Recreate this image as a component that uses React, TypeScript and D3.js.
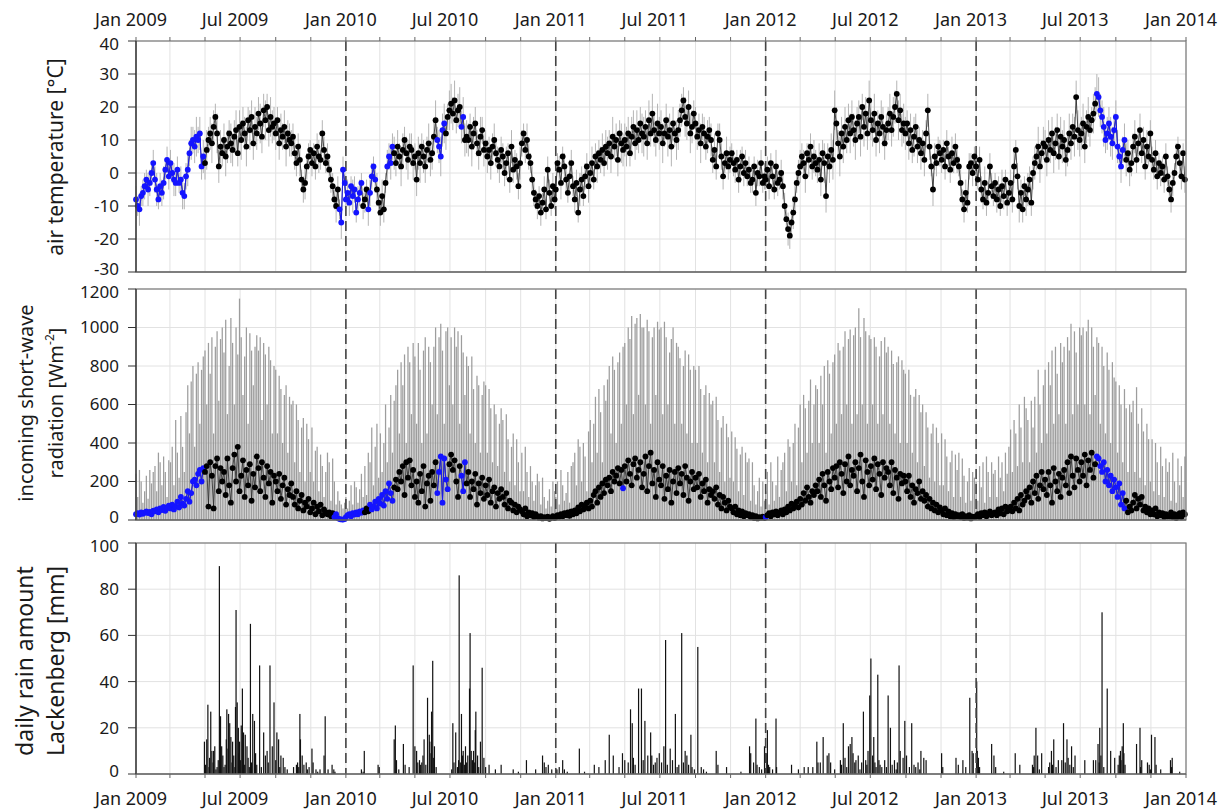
import React from "react";
import * as d3 from "d3";

// Sampling: one value every 3 days, starting 1 January of each year (122 values per year).
// Month blocks: Jan 11, Feb 9, Mar 10, Apr 10, May 11, Jun 10, Jul 10, Aug 10, Sep 10, Oct 11, Nov 10, Dec 10.

// Daily mean air temperature [°C]
const tempMean2009 = [
  -8, -10, -11, -7, -6, -4, -2, -5, -3, 0, 3,
  -2, -5, -8, -4, -6, -3, 1, 4, -1,
  3, 0, -2, -3, 1, -3, -2, -6, -7, -1,
  1, 6, 9, 10, 8, 11, 10, 12, 2, 5,
  3, 7, 10, 12, 9, 14, 17, 12, 2, 8, 6,
  10, 5, 8, 12, 9, 7, 11, 13, 6, 14,
  10, 15, 12, 8, 16, 13, 17, 9, 14, 12,
  18, 15, 11, 19, 16, 20, 13, 17, 14, 15,
  12, 16, 9, 13, 11, 14, 8, 12, 10, 9,
  11, 6, 3, 8, 4, -2, -5, -3, 2, 5, 7,
  3, 6, 2, 8, 5, 4, 12, 7, 3, 5,
  1, -2, -4, -8, -10, -5, -11, -15, 1, -3,
];
const tempMean2010 = [
  -8, -6, -9, -4, -7, -5, -12, -8, -6, -3, -10,
  -8, -5, -11, -6, -1, 2, -2, -5, -9,
  -12, -7, -11, -3, 2, 5, 3, 8, 6, 3,
  8, 5, 2, 7, 10, 6, 4, 8, 7, 3,
  5, -2, 6, 3, 8, 5, 2, 7, 9, 4, 6,
  11, 16, 10, 8, 5, 13, 15, 12, 17, 19,
  21, 18, 22, 16, 19, 20, 14, 17, 10, 11,
  10, 14, 8, 12, 15, 9, 6, 11, 13, 7,
  9, 5, 7, 3, 8, 10, 6, 4, 2, 7,
  5, 0, 3, 6, -2, 8, 1, 4, 2, -4, 3,
  9, 12, 7, 10, 5, 3, -2, -6, -8, -10,
  -7, -12, -9, -5, -11, 1, -6, -10, -4, -8,
];
const tempMean2011 = [
  -5, 3, 1, -3, 5, 2, -2, -6, -1, 3, -4,
  -8, -3, -12, -5, -2, -7, -1, 2, -4,
  0, 3, -2, 5, 2, 6, 4, 7, 3, 8,
  6, 9, 5, 11, 8, 10, 4, 12, 9, 7,
  10, 8, 12, 6, 11, 14, 9, 13, 10, 15, 12,
  11, 14, 9, 16, 12, 18, 13, 10, 15, 12,
  14, 9, 12, 16, 11, 13, 8, 15, 12, 10,
  13, 16, 19, 22, 17, 15, 20, 12, 14, 18,
  15, 11, 13, 9, 14, 12, 8, 11, 13, 10,
  4, 7, 2, 12, 10, 5, -1, 3, 6, 2, 4,
  6, 3, 1, 4, -2, 2, 5, 0, 3, -1,
  1, -3, -2, 2, -6, 0, -1, 3, -3, -1,
];
const tempMean2012 = [
  -2, 1, -4, 3, -1, -5, 2, -3, -2, 0, -4,
  -10, -14, -17, -19, -15, -12, -8, -3, 0,
  2, 5, 3, -1, 6, 4, 8, 2, 5, 3,
  1, 4, -2, 6, 3, -7, 5, 2, 7, 4,
  19, 15, 9, 5, 12, 8, 14, 10, 16, 12, 17,
  13, 10, 15, 17, 11, 20, 14, 18, 12, 22,
  16, 13, 18, 10, 15, 12, 17, 14, 9, 13,
  15, 18, 13, 17, 20, 24, 16, 19, 13, 15,
  12, 15, 9, 13, 7, 11, 14, 8, 10, 6,
  9, 4, 12, 19, 8, 2, -5, 5, 3, 8, 6,
  4, 7, 2, 9, 5, 1, 6, 3, 8, 4,
  2, -3, -8, -11, -6, -9, 2, 3, 0, 5,
];
const tempMean2013 = [
  2, -2, 4, -5, -8, -3, -9, -6, 2, -4, -7,
  -3, -8, -5, -10, -4, -7, -2, -9, -6,
  -3, -8, 2, 7, -1, -10, -6, -11, -4, -8,
  -5, -2, -9, 0, 3, 5, 8, 2, 6, 9,
  8, 4, 10, 7, 12, 6, 9, 13, 5, 11, 8,
  10, 4, 7, 12, 9, 14, 11, 23, 13, 10,
  12, 15, 8, 14, 17, 13, 16, 18, 21, 24,
  23, 19, 17, 14, 10, 12, 15, 11, 9, 13,
  17, 8, 5, 2, 7, 10, 4, 6, 1, 3,
  8, 11, 4, 9, 13, 6, 10, 2, 8, 5, 12,
  4, 1, 6, -1, 3, 0, 2, -2, 5, -1,
  -5, -8, -3, 0, 5, 8, 3, -1, 6, -2,
];

// Half of the daily min–max temperature range [°C]
const tempHalfRange2009 = [
  4, 3, 5, 3, 4, 4, 3, 5, 4, 3, 4,
  4, 5, 3, 4, 4, 5, 3, 4, 4,
  4, 3, 5, 4, 4, 3, 4, 5, 4, 4,
  5, 4, 5, 4, 5, 6, 4, 5, 4, 5,
  5, 6, 4, 5, 6, 5, 4, 6, 5, 5, 4,
  5, 6, 5, 4, 6, 5, 5, 6, 4, 5,
  6, 5, 5, 6, 4, 6, 5, 5, 6, 5,
  5, 6, 5, 5, 6, 4, 5, 6, 5, 5,
  5, 4, 5, 5, 4, 5, 6, 4, 5, 4,
  4, 5, 4, 4, 5, 3, 4, 5, 4, 4, 3,
  4, 3, 4, 4, 5, 3, 4, 4, 3, 4,
  3, 4, 4, 3, 5, 4, 3, 5, 4, 3,
];
const tempHalfRange2010 = [
  3, 4, 4, 3, 5, 4, 3, 4, 4, 3, 4,
  4, 3, 5, 4, 4, 3, 4, 5, 4,
  4, 5, 4, 3, 5, 4, 5, 4, 5, 4,
  5, 4, 6, 5, 4, 5, 6, 4, 5, 5,
  4, 5, 5, 6, 4, 5, 5, 4, 6, 5, 5,
  5, 6, 4, 5, 6, 5, 6, 5, 4, 6,
  6, 5, 6, 4, 5, 6, 5, 6, 5, 5,
  5, 4, 6, 5, 5, 4, 5, 6, 4, 5,
  4, 5, 4, 5, 4, 5, 4, 4, 5, 4,
  4, 4, 5, 3, 4, 5, 4, 3, 4, 4, 5,
  4, 3, 4, 5, 4, 3, 4, 4, 3, 4,
  3, 4, 3, 4, 3, 4, 4, 3, 4, 3,
];
const tempHalfRange2011 = [
  4, 3, 4, 5, 3, 4, 4, 3, 5, 4, 3,
  4, 4, 3, 5, 4, 3, 4, 4, 5,
  4, 5, 3, 4, 5, 4, 4, 5, 4, 5,
  5, 4, 5, 6, 4, 5, 5, 4, 6, 5,
  5, 6, 5, 4, 6, 5, 5, 6, 4, 5, 6,
  6, 5, 5, 6, 4, 6, 5, 5, 6, 5,
  5, 6, 4, 5, 6, 5, 6, 5, 4, 6,
  6, 5, 5, 4, 6, 5, 5, 6, 5, 4,
  5, 4, 5, 6, 4, 5, 4, 5, 4, 5,
  4, 5, 4, 3, 5, 4, 4, 3, 5, 4, 4,
  3, 4, 4, 3, 4, 5, 3, 4, 4, 3,
  4, 3, 4, 3, 4, 4, 3, 4, 3, 4,
];
const tempHalfRange2012 = [
  3, 4, 4, 3, 4, 3, 5, 4, 3, 4, 4,
  4, 3, 5, 4, 4, 5, 4, 3, 4,
  5, 4, 4, 5, 3, 5, 4, 4, 5, 4,
  4, 5, 5, 4, 6, 5, 4, 5, 5, 6,
  6, 5, 4, 6, 5, 5, 6, 4, 5, 6, 5,
  5, 6, 5, 5, 6, 4, 6, 5, 5, 6,
  6, 5, 6, 5, 4, 6, 5, 6, 5, 5,
  5, 6, 5, 6, 5, 4, 6, 5, 5, 6,
  5, 4, 5, 5, 4, 6, 4, 5, 4, 5,
  4, 5, 4, 5, 4, 3, 5, 4, 4, 3, 4,
  4, 3, 4, 4, 3, 4, 5, 3, 4, 4,
  3, 4, 3, 4, 4, 3, 4, 3, 4, 3,
];
const tempHalfRange2013 = [
  4, 3, 4, 4, 3, 5, 4, 3, 4, 4, 3,
  3, 4, 4, 3, 5, 4, 3, 4, 4,
  4, 4, 5, 3, 4, 5, 4, 4, 3, 5,
  5, 4, 4, 5, 5, 4, 6, 5, 4, 5,
  5, 5, 6, 4, 5, 6, 5, 5, 4, 6, 5,
  6, 5, 5, 6, 5, 4, 6, 5, 6, 5,
  5, 6, 5, 5, 6, 5, 4, 6, 5, 6,
  6, 5, 5, 6, 4, 5, 5, 6, 5, 5,
  5, 5, 4, 5, 4, 5, 5, 4, 5, 4,
  4, 5, 4, 4, 5, 3, 4, 4, 5, 3, 4,
  4, 3, 4, 4, 3, 4, 3, 4, 4, 3,
  3, 4, 4, 3, 4, 3, 4, 4, 3, 4,
];

// Daily mean incoming short-wave radiation [W m-2]
const radMean2009 = [
  30, 35, 28, 40, 32, 38, 45, 36, 42, 30, 48,
  45, 55, 40, 60, 52, 68, 48, 62, 75,
  60, 80, 55, 70, 95, 65, 120, 85, 75, 110,
  150, 95, 140, 200, 210, 180, 240, 260, 200, 270,
  250, 280, 70, 300, 230, 60, 280, 320, 150, 270, 200,
  250, 130, 320, 180, 90, 270, 340, 200, 380, 150,
  230, 310, 120, 260, 180, 290, 100, 240, 170, 330,
  270, 150, 300, 220, 120, 280, 190, 250, 90, 230,
  200, 150, 240, 110, 180, 220, 80, 160, 130, 190,
  120, 80, 150, 60, 100, 130, 50, 90, 70, 110, 40,
  60, 90, 30, 70, 45, 80, 25, 55, 40, 30,
  40, 20, 35, 15, 30, 10, 5, 3, 2, 5,
];
const radMean2010 = [
  15, 25, 30, 20, 35, 28, 40, 30, 45, 38, 50,
  40, 60, 45, 80, 55, 70, 95, 60, 110,
  85, 130, 75, 150, 110, 190, 140, 100, 170, 210,
  160, 250, 200, 280, 130, 300, 220, 310, 180, 260,
  120, 200, 90, 240, 150, 280, 70, 190, 230, 100, 250,
  180, 300, 140, 250, 330, 90, 320, 210, 160, 290,
  340, 260, 310, 200, 120, 280, 230, 150, 300, 190,
  250, 120, 200, 160, 240, 80, 190, 140, 220, 110,
  180, 130, 210, 90, 150, 170, 70, 140, 110, 160,
  120, 80, 140, 60, 100, 90, 50, 80, 40, 70, 55,
  45, 30, 60, 20, 40, 25, 35, 15, 30, 20,
  12, 20, 8, 15, 10, 18, 6, 12, 20, 10,
];
const radMean2011 = [
  15, 25, 18, 30, 20, 35, 25, 40, 22, 45, 30,
  50, 35, 65, 45, 80, 55, 70, 90, 60,
  100, 70, 130, 150, 90, 170, 120, 190, 140, 210,
  180, 220, 150, 250, 200, 230, 270, 190, 260, 165,
  280, 200, 310, 240, 180, 290, 320, 220, 260, 300, 170,
  240, 330, 150, 280, 350, 190, 260, 120, 300, 210,
  180, 280, 110, 230, 160, 260, 90, 200, 250, 140,
  270, 190, 240, 130, 280, 220, 100, 200, 250, 160,
  220, 170, 240, 120, 190, 150, 210, 90, 160, 130,
  150, 110, 170, 80, 130, 60, 120, 90, 50, 100, 70,
  60, 40, 70, 30, 50, 25, 45, 20, 35, 25,
  30, 15, 25, 10, 20, 8, 15, 12, 18, 10,
];
const radMean2012 = [
  15, 25, 35, 20, 40, 30, 45, 25, 38, 50, 30,
  55, 40, 70, 50, 85, 60, 75, 95, 65,
  110, 80, 140, 100, 170, 120, 90, 150, 130, 180,
  150, 210, 120, 240, 180, 100, 250, 200, 160, 270,
  220, 280, 170, 300, 240, 140, 290, 200, 330, 180, 260,
  230, 300, 150, 270, 340, 200, 120, 310, 250, 180,
  280, 210, 320, 160, 290, 240, 130, 300, 220, 270,
  250, 180, 300, 140, 260, 220, 110, 240, 190, 230,
  200, 150, 230, 120, 180, 90, 160, 140, 200, 110,
  150, 100, 130, 70, 110, 60, 90, 50, 80, 40, 65,
  50, 30, 60, 25, 45, 20, 35, 15, 30, 20,
  25, 15, 30, 10, 20, 12, 25, 8, 18, 15,
];
const radMean2013 = [
  20, 30, 15, 35, 25, 40, 20, 30, 45, 25, 35,
  40, 25, 55, 35, 60, 30, 70, 45, 50,
  70, 45, 90, 60, 110, 50, 130, 80, 100, 150,
  120, 170, 90, 200, 140, 230, 110, 180, 250, 160,
  210, 130, 250, 180, 90, 270, 200, 150, 240, 120, 220,
  260, 180, 300, 140, 330, 230, 170, 320, 260, 200,
  300, 230, 340, 180, 310, 260, 350, 220, 290, 330,
  320, 280, 250, 300, 200, 260, 180, 230, 150, 210,
  170, 120, 190, 80, 140, 60, 100, 40, 70, 50,
  90, 130, 60, 110, 80, 120, 50, 70, 40, 60, 30,
  50, 30, 60, 20, 40, 25, 35, 15, 30, 20,
  20, 40, 15, 30, 10, 25, 35, 15, 40, 30,
];

// Daily maximum incoming short-wave radiation [W m-2]
const radMax2009 = [
  240, 120, 260, 200, 90, 150, 230, 110, 260, 190, 250,
  280, 150, 350, 300, 180, 330, 250, 120, 310,
  300, 380, 180, 520, 350, 220, 540, 380, 250, 560,
  700, 450, 720, 800, 380, 760, 820, 500, 780, 850,
  880, 600, 920, 760, 950, 450, 900, 980, 620, 940, 1000,
  870, 1040, 550, 800, 1050, 920, 600, 1000, 860, 1150,
  950, 650, 850, 1000, 500, 970, 880, 700, 900, 960,
  880, 950, 520, 920, 860, 600, 900, 830, 450, 800,
  780, 450, 750, 680, 400, 650, 700, 350, 640, 600,
  620, 300, 600, 520, 250, 480, 530, 200, 500, 420, 250,
  480, 200, 360, 380, 150, 340, 280, 120, 250, 350,
  300, 100, 320, 200, 80, 150, 100, 80, 60, 90,
];
const radMax2010 = [
  120, 60, 100, 180, 80, 200, 170, 90, 160, 240, 120,
  280, 130, 350, 300, 480, 180, 380, 500, 220,
  450, 250, 400, 600, 300, 480, 650, 350, 620, 700,
  780, 450, 820, 700, 860, 400, 900, 820, 550, 920,
  850, 500, 920, 780, 400, 880, 950, 450, 900, 820, 600,
  900, 1000, 550, 950, 1020, 880, 500, 980, 1000, 700,
  950, 600, 1000, 900, 980, 500, 960, 870, 650, 850,
  800, 450, 850, 680, 400, 750, 700, 350, 650, 720,
  700, 350, 680, 580, 300, 600, 550, 280, 500, 580,
  520, 250, 550, 420, 200, 380, 450, 180, 420, 300, 150,
  350, 150, 380, 250, 120, 280, 200, 100, 180, 240,
  200, 80, 220, 120, 60, 100, 160, 70, 200, 150,
];
const radMax2011 = [
  120, 200, 80, 260, 180, 100, 140, 250, 90, 280, 300,
  350, 180, 420, 380, 200, 400, 330, 150, 460,
  520, 300, 500, 640, 350, 680, 560, 300, 700, 620,
  730, 800, 450, 850, 780, 400, 820, 870, 500, 900,
  920, 600, 1000, 940, 1060, 550, 1020, 1050, 650, 1070, 1000,
  1000, 600, 1040, 980, 500, 950, 1000, 650, 1030, 990,
  1000, 550, 1030, 950, 600, 870, 940, 1000, 500, 920,
  900, 840, 500, 800, 880, 450, 860, 780, 400, 800,
  780, 400, 800, 680, 350, 650, 700, 300, 660, 600,
  620, 300, 640, 520, 250, 480, 540, 200, 500, 430, 220,
  460, 200, 430, 370, 150, 340, 380, 130, 350, 300,
  320, 100, 300, 180, 80, 150, 220, 70, 200, 100,
];
const radMax2012 = [
  150, 250, 80, 300, 200, 100, 180, 330, 120, 260, 300,
  350, 150, 420, 380, 200, 400, 500, 180, 480,
  600, 300, 650, 580, 350, 620, 730, 400, 600, 700,
  680, 400, 750, 600, 800, 350, 830, 760, 450, 820,
  860, 500, 920, 880, 550, 900, 980, 600, 940, 990, 500,
  960, 1000, 550, 1100, 950, 600, 1050, 980, 500, 960,
  940, 600, 950, 900, 500, 850, 930, 550, 950, 870,
  900, 500, 880, 810, 450, 820, 850, 400, 830, 780,
  760, 400, 780, 650, 350, 640, 680, 300, 650, 560,
  600, 280, 560, 480, 220, 450, 500, 200, 480, 400, 180,
  450, 180, 420, 330, 150, 300, 360, 120, 340, 260,
  350, 120, 320, 230, 90, 200, 270, 100, 250, 220,
];
const radMax2013 = [
  200, 100, 280, 170, 300, 90, 330, 250, 120, 300, 240,
  260, 120, 330, 220, 300, 150, 350, 240, 380,
  470, 250, 520, 450, 280, 600, 480, 300, 640, 580,
  520, 300, 620, 480, 640, 350, 780, 600, 400, 700,
  780, 450, 820, 700, 880, 500, 900, 760, 550, 920, 820,
  900, 500, 950, 880, 1020, 550, 980, 870, 600, 1000,
  960, 1000, 600, 980, 1040, 550, 1000, 900, 650, 950,
  920, 500, 900, 800, 450, 870, 780, 400, 820, 740,
  720, 350, 700, 600, 300, 680, 580, 250, 600, 560,
  620, 250, 690, 500, 220, 580, 460, 180, 500, 420, 200,
  420, 150, 400, 300, 130, 380, 280, 120, 320, 250,
  300, 100, 350, 200, 90, 320, 180, 280, 120, 330,
];

// Daily rain amount at Lackenberg: [day of year (0 = 1 Jan), mm]
const rain2009 = [
  [119, 14], [121, 4], [123, 15], [125, 30], [127, 3], [128, 7], [130, 27], [132, 10], [134, 5],
  [135, 10], [137, 12], [139, 2], [141, 3], [143, 6], [145, 90], [147, 25], [149, 12], [151, 8],
  [153, 3], [155, 4], [157, 15], [158, 28], [160, 11], [161, 26], [163, 22], [165, 16], [167, 5],
  [168, 14], [170, 8], [172, 3], [173, 29], [174, 71], [176, 31], [178, 20], [179, 9], [180, 14],
  [182, 6], [183, 21], [185, 37], [187, 18], [189, 4], [190, 17], [193, 12], [195, 7], [197, 3],
  [199, 65], [201, 5], [203, 26], [206, 23], [208, 9], [210, 4], [215, 47], [218, 3], [222, 18],
  [225, 8], [228, 10], [230, 5], [233, 47], [237, 12], [240, 31], [243, 6], [245, 18], [248, 15],
  [250, 3], [252, 8], [256, 7], [259, 3], [263, 2], [274, 3], [279, 4], [281, 5], [283, 3],
  [285, 26], [286, 15], [289, 8], [292, 4], [296, 5], [298, 2], [301, 3], [306, 11], [308, 5],
  [313, 2], [316, 1], [320, 2], [327, 8], [329, 25], [334, 2], [341, 4], [344, 2], [346, 1],
];
const rain2010 = [
  [27, 2], [30, 1], [32, 10], [56, 4], [58, 3], [84, 15], [86, 21], [88, 6], [92, 2], [100, 13],
  [103, 4], [110, 3], [117, 47], [120, 12], [123, 10], [125, 5], [128, 6], [130, 4], [132, 5],
  [134, 8], [136, 15], [139, 4], [142, 33], [145, 17], [146, 14], [148, 9], [149, 27], [151, 49],
  [152, 7], [154, 12], [157, 3], [184, 2], [186, 22], [188, 5], [191, 18], [194, 3], [196, 6],
  [197, 86], [199, 5], [201, 26], [203, 8], [204, 10], [206, 4], [208, 12], [210, 5], [212, 8],
  [215, 37], [216, 61], [218, 10], [220, 6], [222, 10], [224, 5], [225, 19], [226, 27], [229, 8],
  [231, 3], [234, 14], [237, 46], [240, 7], [243, 3], [249, 4], [260, 2], [270, 4], [291, 2],
  [300, 1], [314, 6], [330, 2], [342, 8], [345, 5], [348, 3], [352, 4], [358, 2],
];
const rain2011 = [
  [0, 2], [2, 2], [6, 3], [12, 6], [15, 2], [20, 1], [41, 11], [50, 1], [67, 4], [75, 3],
  [86, 6], [93, 17], [100, 8], [110, 3], [116, 9], [120, 6], [126, 5], [130, 28], [133, 22],
  [135, 7], [138, 4], [144, 37], [149, 37], [152, 6], [155, 23], [160, 8], [165, 18], [167, 8],
  [170, 4], [173, 5], [176, 7], [180, 9], [184, 5], [188, 12], [191, 58], [194, 4], [199, 11],
  [203, 6], [208, 26], [211, 3], [214, 4], [219, 61], [222, 5], [225, 10], [228, 8], [231, 4],
  [235, 17], [237, 3], [241, 2], [247, 55], [253, 3], [257, 2], [262, 1], [279, 10], [282, 4],
  [297, 3], [322, 1], [337, 12], [339, 9], [344, 5], [348, 24], [350, 4], [354, 3], [358, 2],
  [363, 12],
];
const rain2012 = [
  [2, 9], [3, 19], [5, 4], [7, 3], [12, 2], [18, 24], [19, 3], [45, 4], [57, 2], [67, 3],
  [74, 3], [82, 3], [89, 14], [91, 5], [95, 5], [100, 16], [107, 8], [110, 9], [113, 5],
  [120, 2], [130, 6], [132, 4], [135, 22], [138, 7], [141, 3], [144, 12], [147, 13], [150, 16],
  [152, 9], [155, 5], [157, 6], [161, 8], [164, 2], [167, 5], [170, 27], [174, 6], [176, 4],
  [178, 10], [181, 34], [183, 50], [186, 8], [188, 16], [190, 5], [192, 3], [195, 43], [197, 6],
  [199, 4], [202, 3], [207, 6], [210, 3], [213, 34], [217, 20], [220, 4], [224, 6], [227, 2],
  [229, 5], [232, 47], [234, 10], [239, 7], [242, 23], [245, 8], [250, 3], [254, 22], [258, 4],
  [261, 3], [265, 5], [268, 2], [270, 10], [275, 7], [279, 6], [306, 9], [308, 3], [331, 7],
  [335, 4], [343, 6], [348, 3], [355, 33], [359, 10], [361, 9],
];
const rain2013 = [
  [1, 40], [2, 10], [4, 7], [6, 3], [27, 13], [31, 8], [34, 3], [48, 1], [68, 9], [76, 4],
  [98, 4], [100, 3], [101, 8], [104, 20], [107, 8], [110, 2], [114, 9], [126, 3], [128, 5],
  [131, 10], [133, 4], [135, 15], [139, 3], [143, 6], [149, 6], [152, 22], [155, 5], [158, 15],
  [160, 7], [163, 4], [166, 12], [169, 3], [172, 8], [189, 6], [204, 6], [208, 6], [212, 13],
  [214, 5], [215, 20], [217, 8], [219, 70], [222, 3], [228, 37], [234, 10], [241, 7], [247, 4],
  [249, 8], [251, 10], [252, 6], [254, 12], [256, 22], [257, 9], [259, 4], [279, 13], [285, 20],
  [286, 3], [288, 6], [298, 5], [301, 4], [303, 2], [305, 17], [311, 16], [313, 4], [321, 2],
  [338, 6], [340, 3], [341, 7], [354, 1],
];

// Periods where gaps were filled (drawn in blue)
const gapFilledTemp = [
  ["2009-01-01", "2009-04-30"],
  ["2009-12-19", "2010-01-28"],
  ["2010-02-08", "2010-02-22"],
  ["2010-03-14", "2010-03-24"],
  ["2010-06-08", "2010-06-22"],
  ["2010-07-21", "2010-07-26"],
  ["2013-07-29", "2013-09-16"],
];
const gapFilledRad = [
  ["2009-01-01", "2009-04-30"],
  ["2009-12-12", "2010-01-31"],
  ["2010-02-10", "2010-03-24"],
  ["2010-06-08", "2010-06-27"],
  ["2010-07-21", "2010-07-29"],
  ["2011-04-26", "2011-04-28"],
  ["2011-12-31", "2012-01-02"],
  ["2013-07-29", "2013-09-16"],
];

const years = [2009, 2010, 2011, 2012, 2013];
const xTickLabels = [
  "Jan 2009", "Jul 2009", "Jan 2010", "Jul 2010", "Jan 2011", "Jul 2011",
  "Jan 2012", "Jul 2012", "Jan 2013", "Jul 2013", "Jan 2014",
];
const tempTicks = [40, 30, 20, 10, 0, -10, -20, -30];
const radTicks = [1200, 1000, 800, 600, 400, 200, 0];
const rainTicks = [100, 80, 60, 40, 20, 0];

const tempMeans = [tempMean2009, tempMean2010, tempMean2011, tempMean2012, tempMean2013];
const tempHalfRanges = [tempHalfRange2009, tempHalfRange2010, tempHalfRange2011, tempHalfRange2012, tempHalfRange2013];
const radMeans = [radMean2009, radMean2010, radMean2011, radMean2012, radMean2013];
const radMaxes = [radMax2009, radMax2010, radMax2011, radMax2012, radMax2013];
const rains = [rain2009, rain2010, rain2011, rain2012, rain2013];

type Pt = { date: Date; v: number; extra: number; blue: boolean };

const parseDay = d3.timeParse("%Y-%m-%d");

function inPeriods(date: Date, periods: string[][]): boolean {
  return periods.some(([a, b]) => date >= (parseDay(a) as Date) && date <= (parseDay(b) as Date));
}

function buildSeries(vals: number[][], extras: number[][], periods: string[][]): Pt[] {
  const out: Pt[] = [];
  years.forEach((yr, k) => {
    const start = new Date(yr, 0, 1);
    vals[k].forEach((v, i) => {
      const date = d3.timeDay.offset(start, 3 * i);
      out.push({ date, v, extra: extras[k][i], blue: inPeriods(date, periods) });
    });
  });
  return out;
}

const FONT = "'Noto Sans', 'Open Sans', sans-serif";
const BLUE = "#1414ff";

export default function App() {
  const W = 1228;
  const H = 810;
  const left = 136;
  const right = 1186;

  const x = d3.scaleTime().domain([new Date(2009, 0, 1), new Date(2014, 0, 1)]).range([left, right]);
  const yT = d3.scaleLinear().domain([-30, 40]).range([272, 41]);
  const yR = d3.scaleLinear().domain([0, 1200]).range([520, 289]);
  const yP = d3.scaleLinear().domain([0, 100]).range([774, 543]);

  const temp = buildSeries(tempMeans, tempHalfRanges, gapFilledTemp);
  const rad = buildSeries(radMeans, radMaxes, gapFilledRad);
  const rainPts: { date: Date; mm: number }[] = [];
  years.forEach((yr, k) => {
    rains[k].forEach(([doy, mm]) => rainPts.push({ date: d3.timeDay.offset(new Date(yr, 0, 1), doy), mm }));
  });

  const gridMonths = d3.timeMonth.every(2)!.range(new Date(2009, 0, 1), new Date(2014, 0, 2));
  const labelDates = d3.timeMonth.every(6)!.range(new Date(2009, 0, 1), new Date(2014, 0, 2));
  const yearBreaks = [2010, 2011, 2012, 2013].map((y) => new Date(y, 0, 1));

  const lineT = d3.line<Pt>().x((d) => x(d.date)).y((d) => yT(d.v));
  const lineTBlue = d3.line<Pt>().defined((d) => d.blue).x((d) => x(d.date)).y((d) => yT(d.v));
  const lineR = d3.line<Pt>().x((d) => x(d.date)).y((d) => yR(d.v));
  const lineRBlue = d3.line<Pt>().defined((d) => d.blue).x((d) => x(d.date)).y((d) => yR(d.v));

  const panels = [
    { key: "t", y: yT, ticks: tempTicks, top: 41, bottom: 272 },
    { key: "r", y: yR, ticks: radTicks, top: 289, bottom: 520 },
    { key: "p", y: yP, ticks: rainTicks, top: 543, bottom: 774 },
  ];

  // top and bottom tick labels sit slightly inside their panel so labels of adjacent panels stay apart
  const labelNudge = (t: number, ticks: number[]) => (t === ticks[0] ? 3 : t === ticks[ticks.length - 1] ? -3 : 0);

  return (
    <svg
      width={W}
      height={H}
      viewBox={`0 0 ${W} ${H}`}
      style={{ position: "absolute", left: 0, top: 0, background: "#fff" }}
      fontFamily={FONT}
    >
      <rect x={0} y={0} width={W} height={H} fill="#fff" />

      {/* grid */}
      {panels.map((p) => (
        <g key={"grid" + p.key} stroke="#e2e2e2" strokeWidth={1}>
          {gridMonths.map((m, i) => (
            <line key={i} x1={x(m)} x2={x(m)} y1={p.top} y2={p.bottom} />
          ))}
          {p.ticks.map((t) => (
            <line key={"h" + t} x1={left} x2={right} y1={p.y(t)} y2={p.y(t)} />
          ))}
        </g>
      ))}

      {/* temperature: daily min-max range */}
      <g stroke="#b4b4b4" strokeWidth={1}>
        {temp.map((d, i) => (
          <line key={i} x1={x(d.date)} x2={x(d.date)} y1={yT(d.v - d.extra)} y2={yT(d.v + d.extra)} />
        ))}
      </g>

      {/* radiation: daily maximum */}
      <g stroke="#8c8c8c" strokeWidth={1.25} strokeOpacity={0.85}>
        {rad.map((d, i) => (
          <line key={i} x1={x(d.date)} x2={x(d.date)} y1={yR(0)} y2={yR(d.extra)} />
        ))}
      </g>

      {/* rain bars */}
      <g fill="#111">
        {rainPts.map((d, i) => (
          <rect key={i} x={x(d.date) - 0.6} width={1.2} y={yP(d.mm)} height={yP(0) - yP(d.mm)} />
        ))}
      </g>

      {/* year separators */}
      {panels.map((p) => (
        <g key={"yb" + p.key} stroke="#444" strokeWidth={1.6} strokeDasharray="10,5">
          {yearBreaks.map((d, i) => (
            <line key={i} x1={x(d)} x2={x(d)} y1={p.top} y2={p.bottom} />
          ))}
        </g>
      ))}

      {/* connecting lines */}
      <path d={lineT(temp) || ""} fill="none" stroke="#222" strokeWidth={0.8} />
      <path d={lineTBlue(temp) || ""} fill="none" stroke={BLUE} strokeWidth={0.9} />
      <path d={lineR(rad) || ""} fill="none" stroke="#222" strokeWidth={0.8} />
      <path d={lineRBlue(rad) || ""} fill="none" stroke={BLUE} strokeWidth={0.9} />

      {/* daily means */}
      <g>
        {temp.map((d, i) => (
          <circle key={i} cx={x(d.date)} cy={yT(d.v)} r={2.9} fill={d.blue ? BLUE : "#000"} />
        ))}
      </g>
      <g>
        {rad.map((d, i) => (
          <circle key={i} cx={x(d.date)} cy={yR(d.v)} r={2.9} fill={d.blue ? BLUE : "#000"} />
        ))}
      </g>

      {/* frames, y axes */}
      {panels.map((p) => (
        <g key={"ax" + p.key}>
          <rect x={left} y={p.top} width={right - left} height={p.bottom - p.top} fill="none" stroke="#7a7a7a" strokeWidth={1.2} />
          <line x1={left} x2={left} y1={p.top} y2={p.bottom} stroke="#333" strokeWidth={1.3} />
          <line x1={left} x2={right} y1={p.bottom} y2={p.bottom} stroke="#555" strokeWidth={1.2} />
          {p.ticks.map((t) => (
            <g key={t}>
              <line x1={left - 8} x2={left} y1={p.y(t)} y2={p.y(t)} stroke="#333" strokeWidth={1} />
              <text
                x={119}
                y={p.y(t) + labelNudge(t, p.ticks)}
                dy="0.35em"
                textAnchor="end"
                fontSize={17}
                fill="#1a1a1a"
              >
                {t}
              </text>
            </g>
          ))}
        </g>
      ))}

      {/* x ticks */}
      <g stroke="#666" strokeWidth={1}>
        {gridMonths.map((m, i) => (
          <line key={"tt" + i} x1={x(m)} x2={x(m)} y1={41} y2={37} />
        ))}
        {gridMonths.map((m, i) => (
          <line key={"bt" + i} x1={x(m)} x2={x(m)} y1={774} y2={778} />
        ))}
      </g>

      {/* x labels */}
      {labelDates.map((d, i) => (
        <g key={"xl" + i} fontSize={18} fill="#1a1a1a" textAnchor="middle">
          <text x={x(d) - 5} y={26}>{xTickLabels[i]}</text>
          <text x={x(d) - 5} y={805}>{xTickLabels[i]}</text>
        </g>
      ))}

      {/* axis titles */}
      <text transform="translate(63,157) rotate(-90)" textAnchor="middle" fontSize={21} fill="#1a1a1a">
        air temperature [°C]
      </text>
      <g transform="translate(0,403) rotate(-90)" textAnchor="middle" fontSize={20} fill="#1a1a1a">
        <text x={0} y={33}>incoming short-wave</text>
        <text x={0} y={63}>
          radiation [Wm<tspan fontSize={12} dy={-9}>-2</tspan>
          <tspan dy={9}>]</tspan>
        </text>
      </g>
      <g transform="translate(0,661) rotate(-90)" textAnchor="middle" fontSize={23} fill="#1a1a1a">
        <text x={0} y={33}>daily rain amount</text>
        <text x={0} y={64}>Lackenberg [mm]</text>
      </g>
    </svg>
  );
}
